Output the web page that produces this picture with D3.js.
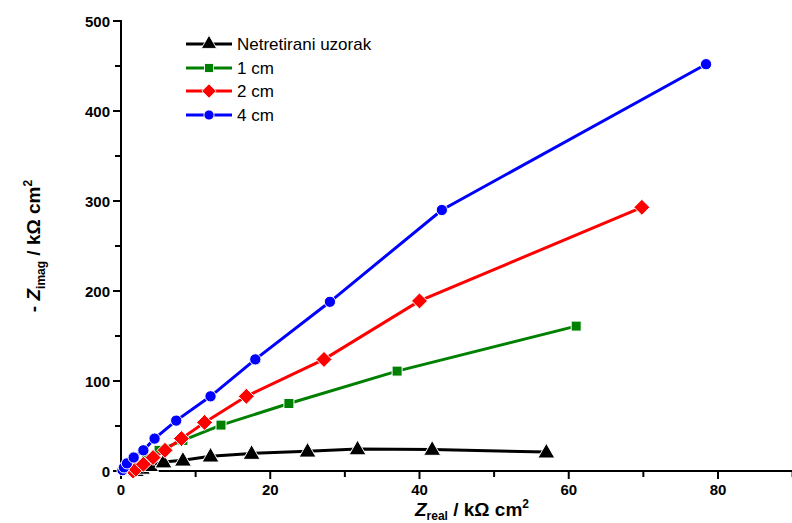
<!DOCTYPE html>
<html><head><meta charset="utf-8">
<script src="https://cdn.jsdelivr.net/npm/d3@7"></script>
<style>body{margin:0;background:#fff}svg{display:block}</style>
</head><body><svg id="c" width="792" height="523"></svg>
<script>
const seriesNames = ["Netretirani uzorak", "1 cm", "2 cm", "4 cm"];
const seriesColors = ["#000000", "#008000", "#ff0000", "#0000ff"];
const seriesShapes = ["triangle", "square", "diamond", "circle"];
const blackX = [2.0, 2.8, 3.9, 5.7, 8.3, 12.0, 17.5, 25.0, 31.7, 41.7, 57.0];
const blackY = [0.5, 3, 6, 10, 12, 16.5, 19.5, 22, 24.5, 24, 21];
const greenX = [1.6, 2.4, 3.4, 5.1, 8.3, 13.4, 22.5, 37.0, 61.0];
const greenY = [1, 7, 14, 23, 34, 51, 75, 111, 161];
const redX = [1.6, 2.0, 3.0, 4.3, 5.9, 8.1, 11.2, 16.8, 27.2, 40.0, 69.8];
const redY = [0, 2, 7.5, 15, 23, 36, 54, 83, 124, 189, 293];
const blueX = [0.2, 0.4, 0.8, 1.7, 3.0, 4.5, 7.4, 12.0, 18.0, 28.0, 43.0, 78.4];
const blueY = [1, 4, 8.5, 15, 23, 36, 56, 83, 124, 188, 290, 452];
const xTicks = [0, 20, 40, 60, 80];
const yTicks = [0, 100, 200, 300, 400, 500];

const seriesX = [blackX, greenX, redX, blueX];
const seriesY = [blackY, greenY, redY, blueY];

const svg = d3.select("#c");
const x = d3.scaleLinear().domain([0, 90]).range([121, 792.6]);
const y = d3.scaleLinear().domain([0, 500]).range([471, 21]);
const ff = "Liberation Sans, Arial, sans-serif";

// x axis
const gx = svg.append("g").attr("transform", "translate(0,471)");
gx.append("line").attr("x1", 121).attr("x2", 792).attr("stroke", "#000").attr("stroke-width", 2);
gx.selectAll(".tk").data(d3.range(0, 91, 10)).enter().append("line")
  .attr("x1", d => x(d)).attr("x2", d => x(d)).attr("y1", 0).attr("y2", d => d % 20 === 0 ? 8 : 6)
  .attr("stroke", "#000").attr("stroke-width", 2);
gx.selectAll(".tl").data(xTicks).enter().append("text")
  .attr("x", d => x(d)).attr("y", 24).attr("text-anchor", "middle")
  .attr("font-family", ff).attr("font-weight", "bold").attr("font-size", 15)
  .text(d => d);

// y axis
const gy = svg.append("g").attr("transform", "translate(121,0)");
gy.append("line").attr("y1", 20).attr("y2", 472).attr("stroke", "#000").attr("stroke-width", 2);
gy.selectAll(".tk").data(d3.range(0, 501, 50)).enter().append("line")
  .attr("y1", d => y(d)).attr("y2", d => y(d)).attr("x1", 0).attr("x2", d => d % 100 === 0 ? -8 : -6)
  .attr("stroke", "#000").attr("stroke-width", 2);
gy.selectAll(".tl").data(yTicks).enter().append("text")
  .attr("y", d => y(d) + 5.5).attr("x", -11).attr("text-anchor", "end")
  .attr("font-family", ff).attr("font-weight", "bold").attr("font-size", 15)
  .text(d => d);

// axis titles
const xt = svg.append("text").attr("x", 472).attr("y", 516).attr("text-anchor", "middle")
  .attr("font-family", ff).attr("font-weight", "bold").attr("font-size", 19);
xt.append("tspan").attr("font-style", "italic").text("Z");
xt.append("tspan").attr("font-size", 12).attr("dy", 4).text("real");
xt.append("tspan").attr("dy", -4).text(" / kΩ cm");
xt.append("tspan").attr("font-size", 12).attr("dy", -8).text("2");

const yt = svg.append("text").attr("transform", "translate(40,246) rotate(-90)").attr("text-anchor", "middle")
  .attr("font-family", ff).attr("font-weight", "bold").attr("font-size", 19);
yt.append("tspan").text("- ");
yt.append("tspan").attr("font-style", "italic").text("Z");
yt.append("tspan").attr("font-size", 12).attr("dy", 5).text("imag");
yt.append("tspan").attr("dy", -5).text(" / kΩ cm");
yt.append("tspan").attr("font-size", 12).attr("dy", -8).text("2");

function markerPath(shape) {
  if (shape === "triangle") return d3.symbol(d3.symbolTriangle, 125)();
  if (shape === "square") return d3.symbol(d3.symbolSquare, 100)();
  if (shape === "diamond") return "M0,-8L8,0L0,8L-8,0Z";
  return d3.symbol(d3.symbolCircle, 100)();
}

const line = d3.line().x(d => x(d[0])).y(d => y(d[1]));
seriesNames.forEach((name, i) => {
  const pts = seriesX[i].map((v, j) => [v, seriesY[i][j]]);
  const g = svg.append("g");
  g.append("path").datum(pts).attr("d", line).attr("fill", "none")
    .attr("stroke", seriesColors[i]).attr("stroke-width", 3);
  g.selectAll("path.m").data(pts).enter().append("path").attr("class", "m")
    .attr("d", markerPath(seriesShapes[i]))
    .attr("transform", d => `translate(${x(d[0])},${y(d[1]) + (seriesShapes[i] === "triangle" ? 1 : 0)})`)
    .attr("fill", seriesColors[i]).attr("stroke", "#fff").attr("stroke-width", 1);
});

// legend
const lg = svg.append("g");
const legY = [44, 68, 91, 115];
seriesNames.forEach((name, i) => {
  const r = lg.append("g").attr("transform", `translate(0,${legY[i]})`);
  r.append("line").attr("x1", 186).attr("x2", 232).attr("stroke", seriesColors[i]).attr("stroke-width", 3);
  r.append("path").attr("d", markerPath(seriesShapes[i]))
    .attr("transform", "translate(209,0) scale(0.9)")
    .attr("fill", seriesColors[i]).attr("stroke", "#fff").attr("stroke-width", 1);
  r.append("text").attr("x", 237).attr("y", 6).attr("font-family", ff).attr("font-size", 17).text(name);
});
</script></body></html>
